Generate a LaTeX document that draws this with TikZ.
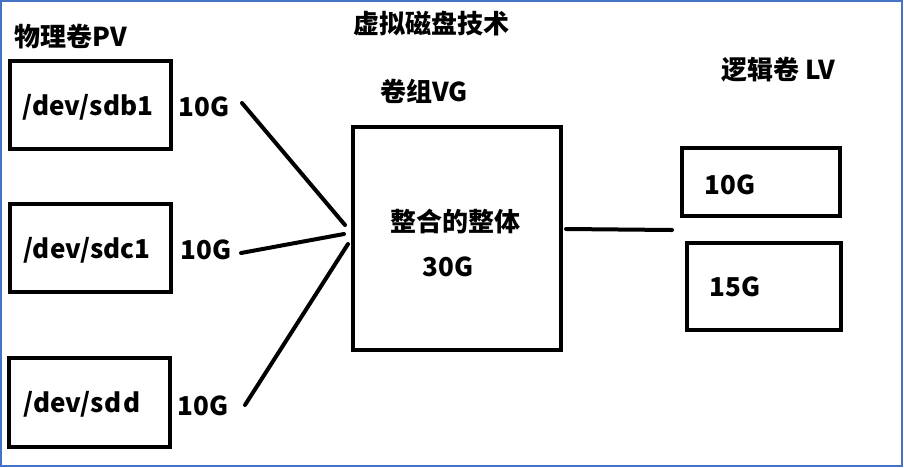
\documentclass[tikz,border=0pt]{standalone}
\usepackage{fontspec}
\setmainfont{Noto Sans CJK SC}
\begin{document}
\begin{tikzpicture}[x=1pt,y=-1pt,
  lbl/.style={font=\fontsize{26}{30}\selectfont\bfseries, inner sep=0pt, anchor=center},
  boxx/.style={draw=black, line width=4pt, inner sep=0pt},
  conn/.style={draw=black, line width=4pt, line cap=round}]
\useasboundingbox (0,0) rectangle (904,467);
\draw[draw={rgb,255:red,68;green,114;blue,196}, line width=2pt] (1,1) rectangle (902,466);
% titles
\node[lbl] (tpv) at (71,37) {物理卷PV};
\node[lbl] (tvirt) at (431,24) {虚拟磁盘技术};
\node[lbl] (tvg) at (424,91) {卷组VG};
\node[lbl] (tlv) at (778,70) {逻辑卷 LV};
% PV boxes
\node[boxx, minimum width=161pt, minimum height=88pt] (pv1) at (90.5,105) {};
\node[boxx, minimum width=161pt, minimum height=88pt] (pv2) at (90.5,248) {};
\node[boxx, minimum width=161pt, minimum height=89pt] (pv3) at (89.5,402.5) {};
\node[lbl] (pv1t) at (88,107) {/dev/sdb1};
\node[lbl] (pv2t) at (87,250) {/dev/sdc1};
\node[lbl] (pv3t) at (82,404) {/dev/sd\hspace{2pt}d};
\node[lbl] (s1) at (204,107) {10G};
\node[lbl] (s2) at (206,250) {10G};
\node[lbl] (s3) at (203,406) {10G};
% VG box
\node[boxx, minimum width=208pt, minimum height=223pt] (vg) at (457,238.5) {};
\node[lbl] (vgt) at (455,222) {整合的整体};
\node[lbl] (vgs) at (448,267) {30G};
% LV boxes
\node[boxx, minimum width=158pt, minimum height=68pt] (lv1) at (761,182) {};
\node[boxx, minimum width=154pt, minimum height=87pt] (lv2) at (764,286.5) {};
\node[lbl] (lv1t) at (730,185) {10G};
\node[lbl] (lv2t) at (735,287) {15G};
% connector ends
\coordinate (a1) at (242,103);
\coordinate (b1) at (345,225);
\coordinate (a2) at (241,253);
\coordinate (b2) at (344,234);
\coordinate (a3) at (245,405);
\coordinate (b3) at (348,244);
\coordinate (c1) at (566,229);
\coordinate (c2) at (672,230);
\draw[conn] (a1) -- (b1);
\draw[conn] (a2) -- (b2);
\draw[conn] (a3) -- (b3);
\draw[conn] (c1) -- (c2);
\end{tikzpicture}
\end{document}
